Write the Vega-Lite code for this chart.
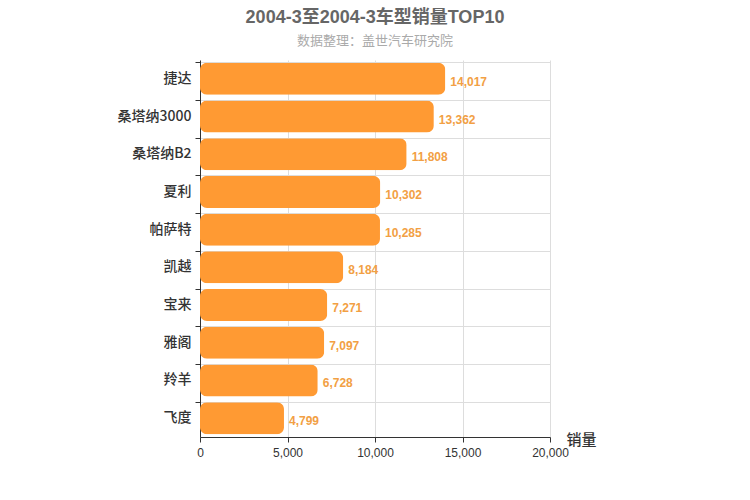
{
  "$schema": "https://vega.github.io/schema/vega-lite/v6.json",
  "autosize": {"type": "none"},
  "padding": {"left": 200, "top": 60, "right": 200, "bottom": 63},
  "width": 350,
  "height": 377,
  "background": "white",
  "title": {
    "text": "2004-3至2004-3车型销量TOP10",
    "subtitle": "数据整理：盖世汽车研究院",
    "anchor": "middle",
    "frame": "group",
    "font": "Liberation Sans, Noto Sans CJK SC",
    "fontSize": 18,
    "fontWeight": "bold",
    "color": "#666666",
    "subtitleFont": "Noto Sans CJK SC",
    "subtitleFontSize": 13,
    "subtitleColor": "#aaaaaa",
    "subtitlePadding": 8,
    "offset": 12
  },
  "data": {
    "values": [
      {"model": "捷达", "sales": 14017},
      {"model": "桑塔纳3000", "sales": 13362},
      {"model": "桑塔纳B2", "sales": 11808},
      {"model": "夏利", "sales": 10302},
      {"model": "帕萨特", "sales": 10285},
      {"model": "凯越", "sales": 8184},
      {"model": "宝来", "sales": 7271},
      {"model": "雅阁", "sales": 7097},
      {"model": "羚羊", "sales": 6728},
      {"model": "飞度", "sales": 4799}
    ]
  },
  "encoding": {
    "y": {
      "field": "model",
      "type": "nominal",
      "sort": null,
      "scale": {"paddingInner": 0.15, "paddingOuter": 0.075},
      "axis": {
        "title": null,
        "bandPosition": 0,
        "grid": true,
        "gridColor": "#dddddd",
        "domainColor": "#333333",
        "tickColor": "#333333",
        "tickSize": 5,
        "labelFont": "Noto Sans CJK SC",
        "labelFontSize": 14,
        "labelFontWeight": 500,
        "labelColor": "#333333",
        "labelPadding": 4
      }
    },
    "x": {
      "field": "sales",
      "type": "quantitative",
      "scale": {"domain": [0, 20000]},
      "axis": {
        "title": "销量",
        "titleFont": "Noto Sans CJK SC",
        "titleFontSize": 15,
        "titleFontWeight": 500,
        "titleColor": "#333333",
        "titleAlign": "left",
        "titleBaseline": "middle",
        "titleX": 366,
        "titleY": 2,
        "tickCount": 4,
        "format": ",.0f",
        "labelFlush": false,
        "grid": true,
        "gridColor": "#dddddd",
        "domainColor": "#333333",
        "tickColor": "#333333",
        "tickSize": 5,
        "labelFont": "Liberation Sans",
        "labelFontSize": 12,
        "labelColor": "#333333",
        "labelPadding": 5
      }
    }
  },
  "layer": [
    {
      "mark": {"type": "bar", "color": "#ff9a33", "cornerRadius": 7}
    },
    {
      "mark": {"type": "text", "align": "left", "baseline": "middle", "dx": 5, "dy": 3, "font": "Liberation Sans", "fontSize": 12, "fontWeight": "bold", "color": "#f2a044"},
      "encoding": {"text": {"field": "sales", "type": "quantitative", "format": ",.0f"}}
    }
  ],
  "config": {"view": {"stroke": null}}
}
